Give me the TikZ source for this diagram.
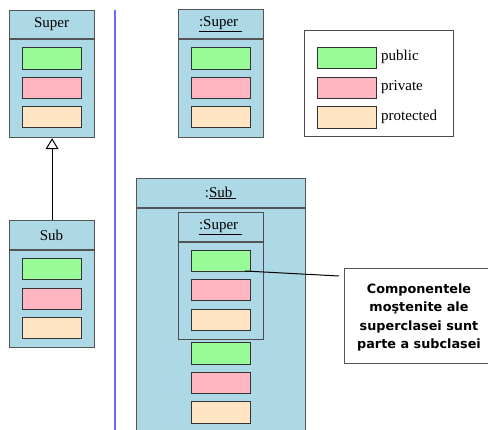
\documentclass[tikz,border=0pt]{standalone}
\usepackage{fontspec}
\usetikzlibrary{arrows.meta}
\setmainfont{Liberation Serif}
\newfontfamily\callfont{DejaVu Sans}
\definecolor{boxblue}{HTML}{ADD8E6}
\definecolor{pubgreen}{HTML}{98FB98}
\definecolor{privpink}{HTML}{FFB6C1}
\definecolor{protpeach}{HTML}{FFE4C4}
\definecolor{vline}{HTML}{6A6AFF}
\definecolor{frame}{HTML}{555555}
\tikzset{
  classbox/.style={draw=frame, line width=1.2pt, fill=boxblue, inner sep=0pt, anchor=north west},
  plainbox/.style={draw=frame!90!black, line width=1.1pt, inner sep=0pt, anchor=north west},
  comp/.style={draw=black!80, line width=1pt, inner sep=0pt, minimum width=59pt, minimum height=21.5pt},
  pub/.style={comp, fill=pubgreen},
  priv/.style={comp, fill=privpink},
  prot/.style={comp, fill=protpeach},
  title/.style={font=\fontsize{15}{17}\selectfont, inner sep=0pt},
  legtext/.style={font=\fontsize{15}{17}\selectfont, inner sep=0pt, anchor=west},
  sepline/.style={draw=frame, line width=1.2pt}
}
\begin{document}
\begin{tikzpicture}[x=1pt,y=-1pt]
\useasboundingbox (0,0) rectangle (488,430);
\clip (0,0) rectangle (488,430);
% vertical blue separator
\coordinate (vt) at (115,10);
\coordinate (vb) at (115,430);
\draw[vline, line width=1.6pt] (vt) -- (vb);

% Super class
\node[classbox, minimum width=85pt, minimum height=127pt] (sup) at (9,10) {};
\draw[sepline] (9,39) -- (94,39);
\node[title] (suptitle) at (51.5,24.5) {Super};
\node[pub]  (sup1) at (51.5,58.5) {};
\node[priv] (sup2) at (51.5,88) {};
\node[prot] (sup3) at (51.5,117) {};

% Sub class
\node[classbox, minimum width=85pt, minimum height=127pt] (sub) at (9,220) {};
\draw[sepline] (9,250) -- (94,250);
\node[title] (subtitle) at (51.5,235) {Sub};
\node[pub]  (sub1) at (51.5,269) {};
\node[priv] (sub2) at (51.5,299) {};
\node[prot] (sub3) at (51.5,328) {};

% generalization
\draw[line width=1pt, -{Triangle[open, width=13pt, length=11pt]}] (sub.north) -- (sup.south);

% :Super instance
\node[classbox, minimum width=85pt, minimum height=128pt] (isup) at (178,9) {};
\draw[sepline] (178,39) -- (263,39);
\node[title] (isuptitle) at (220.5,24) {\underline{:Super\ }};
\node[pub]  (isup1) at (221,58.5) {};
\node[priv] (isup2) at (221,88) {};
\node[prot] (isup3) at (221,117) {};

% legend
\node[plainbox, fill=white, minimum width=149pt, minimum height=106pt] (leg) at (304,30) {};
\node[pub]  (leg1) at (347,58) {};
\node[priv] (leg2) at (347,88) {};
\node[prot] (leg3) at (347,117.5) {};
\node[legtext] (legt1) at (381,57) {public};
\node[legtext] (legt2) at (381,87) {private};
\node[legtext] (legt3) at (381,117) {protected};

% :Sub instance
\node[classbox, minimum width=169pt, minimum height=260pt] (isub) at (136,178) {};
\draw[sepline] (136,208) -- (305,208);
\node[title] (isubtitle) at (220.5,193) {:\underline{Sub\ }};
\node[plainbox, minimum width=85pt, minimum height=127pt] (inner) at (178,212) {};
\draw[sepline] (178,242) -- (263,242);
\node[title] (innertitle) at (220.5,227) {\underline{:Super\ }};
\node[pub]  (in1) at (221,261) {};
\node[priv] (in2) at (221,290) {};
\node[prot] (in3) at (221,320) {};
\node[pub]  (ow1) at (221,353.5) {};
\node[priv] (ow2) at (221,383) {};
\node[prot] (ow3) at (221,412.5) {};

% callout
\node[draw=frame, line width=1.2pt, fill=white, anchor=north west, minimum width=150pt, minimum height=95pt, inner sep=0pt] (call) at (344,268) {};
\node[font=\callfont\bfseries\fontsize{12.8}{18.4}\selectfont, align=center, inner sep=0pt] (calltext) at (419,317.5) {Componentele\\moştenite ale\\superclasei sunt\\parte a subclasei};
\coordinate (ls) at (245,271);
\coordinate (le) at (339,276);
\draw[line width=1pt, black] (ls) -- (le);
\end{tikzpicture}
\end{document}
